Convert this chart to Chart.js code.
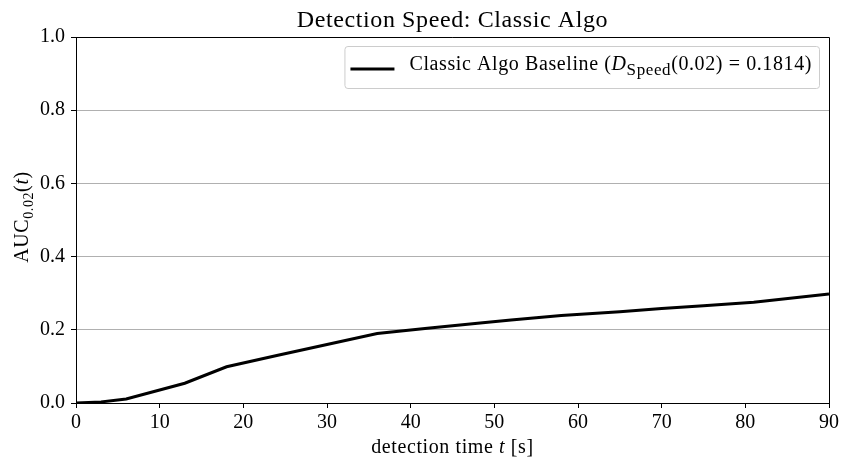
<!DOCTYPE html>
<html>
<head>
<meta charset="utf-8">
<script src="https://cdn.jsdelivr.net/npm/chart.js@4.4.0/dist/chart.umd.min.js"></script>
<style>
  html, body { margin: 0; padding: 0; background: #fff; }
  #wrap { width: 842px; height: 463px; }
</style>
</head>
<body>
<div id="wrap"><canvas id="chart" width="842" height="463"></canvas></div>
<script>
const TIMES = [0, 3, 6, 13, 18, 24, 30, 36, 42, 48, 52, 58, 65, 70, 75, 81, 90];
const AUC = [0, 0.003, 0.011, 0.054, 0.099, 0.13, 0.16, 0.19, 0.204, 0.218, 0.227, 0.239, 0.249, 0.258, 0.266, 0.275, 0.298];
const X_TICKS = [0, 10, 20, 30, 40, 50, 60, 70, 80, 90];
const Y_TICKS = [0.0, 0.2, 0.4, 0.6, 0.8, 1.0];

const SERIF = '"Liberation Serif", "DejaVu Serif", serif';
const FS = 20;
const SPACING = 0.6; // widen Liberation a bit to match the TeX font

const TITLE = [{ t: 'Detection Speed: Classic Algo' }];
const X_LABEL = [{ t: 'detection time ' }, { t: 't', it: true }, { t: ' [s]' }];
const Y_LABEL = [{ t: 'AUC' }, { t: '0.02', sub: true }, { t: '(' }, { t: 't', it: true }, { t: ')' }];
const LEGEND = [{ t: 'Classic Algo Baseline (' }, { t: 'D', it: true }, { t: 'Speed', sub: true, big: true },
  { t: '(0.02) = 0.1814)' }];

function segFont(s, size) {
  const sz = s.sub ? size * (s.big ? 0.85 : 0.7) : size;
  return (s.it ? 'italic ' : '') + sz + 'px ' + SERIF;
}

function richWidth(ctx, segs, size) {
  let w = 0;
  ctx.letterSpacing = SPACING + 'px';
  segs.forEach(s => { ctx.font = segFont(s, size); w += ctx.measureText(s.t).width; });
  return w;
}

// draws segments starting at x (left), baseline y
function drawRich(ctx, segs, x, y, size) {
  ctx.textBaseline = 'alphabetic';
  ctx.textAlign = 'left';
  ctx.letterSpacing = SPACING + 'px';
  segs.forEach(s => {
    ctx.font = segFont(s, size);
    ctx.fillText(s.t, x, y + (s.sub ? size * 0.25 : 0));
    x += ctx.measureText(s.t).width;
  });
  ctx.letterSpacing = '0px';
}

const extras = {
  id: 'extras',
  afterDraw(chart) {
    const { ctx, chartArea: a } = chart;
    ctx.save();
    ctx.fillStyle = '#000';

    // top and right spines
    ctx.strokeStyle = '#000';
    ctx.lineWidth = 1;
    ctx.beginPath();
    ctx.moveTo(a.left, a.top + 0.5);
    ctx.lineTo(a.right + 0.5, a.top + 0.5);
    ctx.lineTo(a.right + 0.5, a.bottom);
    ctx.stroke();

    const cx = (a.left + a.right) / 2;
    let w = richWidth(ctx, TITLE, 24);
    drawRich(ctx, TITLE, cx - w / 2, 27, 24);

    w = richWidth(ctx, X_LABEL, FS);
    drawRich(ctx, X_LABEL, cx - w / 2, 453, FS);

    ctx.save();
    ctx.translate(28, (a.top + a.bottom) / 2 - 3);
    ctx.rotate(-Math.PI / 2);
    w = richWidth(ctx, Y_LABEL, FS);
    drawRich(ctx, Y_LABEL, -w / 2, 0, FS);
    ctx.restore();

    // legend
    const lfs = 20;
    const tw = richWidth(ctx, LEGEND, lfs);
    const bw = tw + 72, bh = 42;
    const bx = a.right - 10 - bw, by = a.top + 9;
    ctx.beginPath();
    ctx.roundRect(bx + 0.5, by + 0.5, bw, bh, 3);
    ctx.fillStyle = 'rgba(255,255,255,0.8)';
    ctx.fill();
    ctx.strokeStyle = '#cccccc';
    ctx.lineWidth = 1;
    ctx.stroke();
    ctx.strokeStyle = '#000';
    ctx.lineWidth = 3;
    ctx.beginPath();
    ctx.moveTo(bx + 6, by + 23);
    ctx.lineTo(bx + 50, by + 23);
    ctx.stroke();
    ctx.fillStyle = '#000';
    drawRich(ctx, LEGEND, bx + 65, by + 24, lfs);
    ctx.restore();
  }
};

new Chart(document.getElementById('chart'), {
  type: 'line',
  data: {
    datasets: [{
      data: TIMES.map((t, i) => ({ x: t, y: AUC[i] })),
      borderColor: '#000',
      borderWidth: 3,
      pointRadius: 0,
      tension: 0,
      fill: false
    }]
  },
  options: {
    responsive: false,
    animation: false,
    layout: { padding: { top: 37, right: 13, left: 0, bottom: 0 } },
    plugins: { legend: { display: false }, tooltip: { enabled: false } },
    scales: {
      x: {
        type: 'linear', min: 0, max: 90,
        afterBuildTicks: s => { s.ticks = X_TICKS.map(v => ({ value: v })); },
        afterFit: s => { s.height = 60; },
        grid: { drawOnChartArea: false, tickLength: 5, tickColor: '#000' },
        border: { color: '#000', width: 1 },
        ticks: { color: '#000', padding: 3, maxRotation: 0, font: { family: SERIF, size: FS } }
      },
      y: {
        type: 'linear', min: 0, max: 1,
        afterBuildTicks: s => { s.ticks = Y_TICKS.map(v => ({ value: v })); },
        afterFit: s => { s.width = 76; },
        grid: { color: '#b0b0b0', tickLength: 5, tickColor: '#000' },
        border: { color: '#000', width: 1 },
        ticks: { color: '#000', padding: 6, callback: v => v.toFixed(1), font: { family: SERIF, size: FS } }
      }
    }
  },
  plugins: [extras]
});
</script>
</body>
</html>
